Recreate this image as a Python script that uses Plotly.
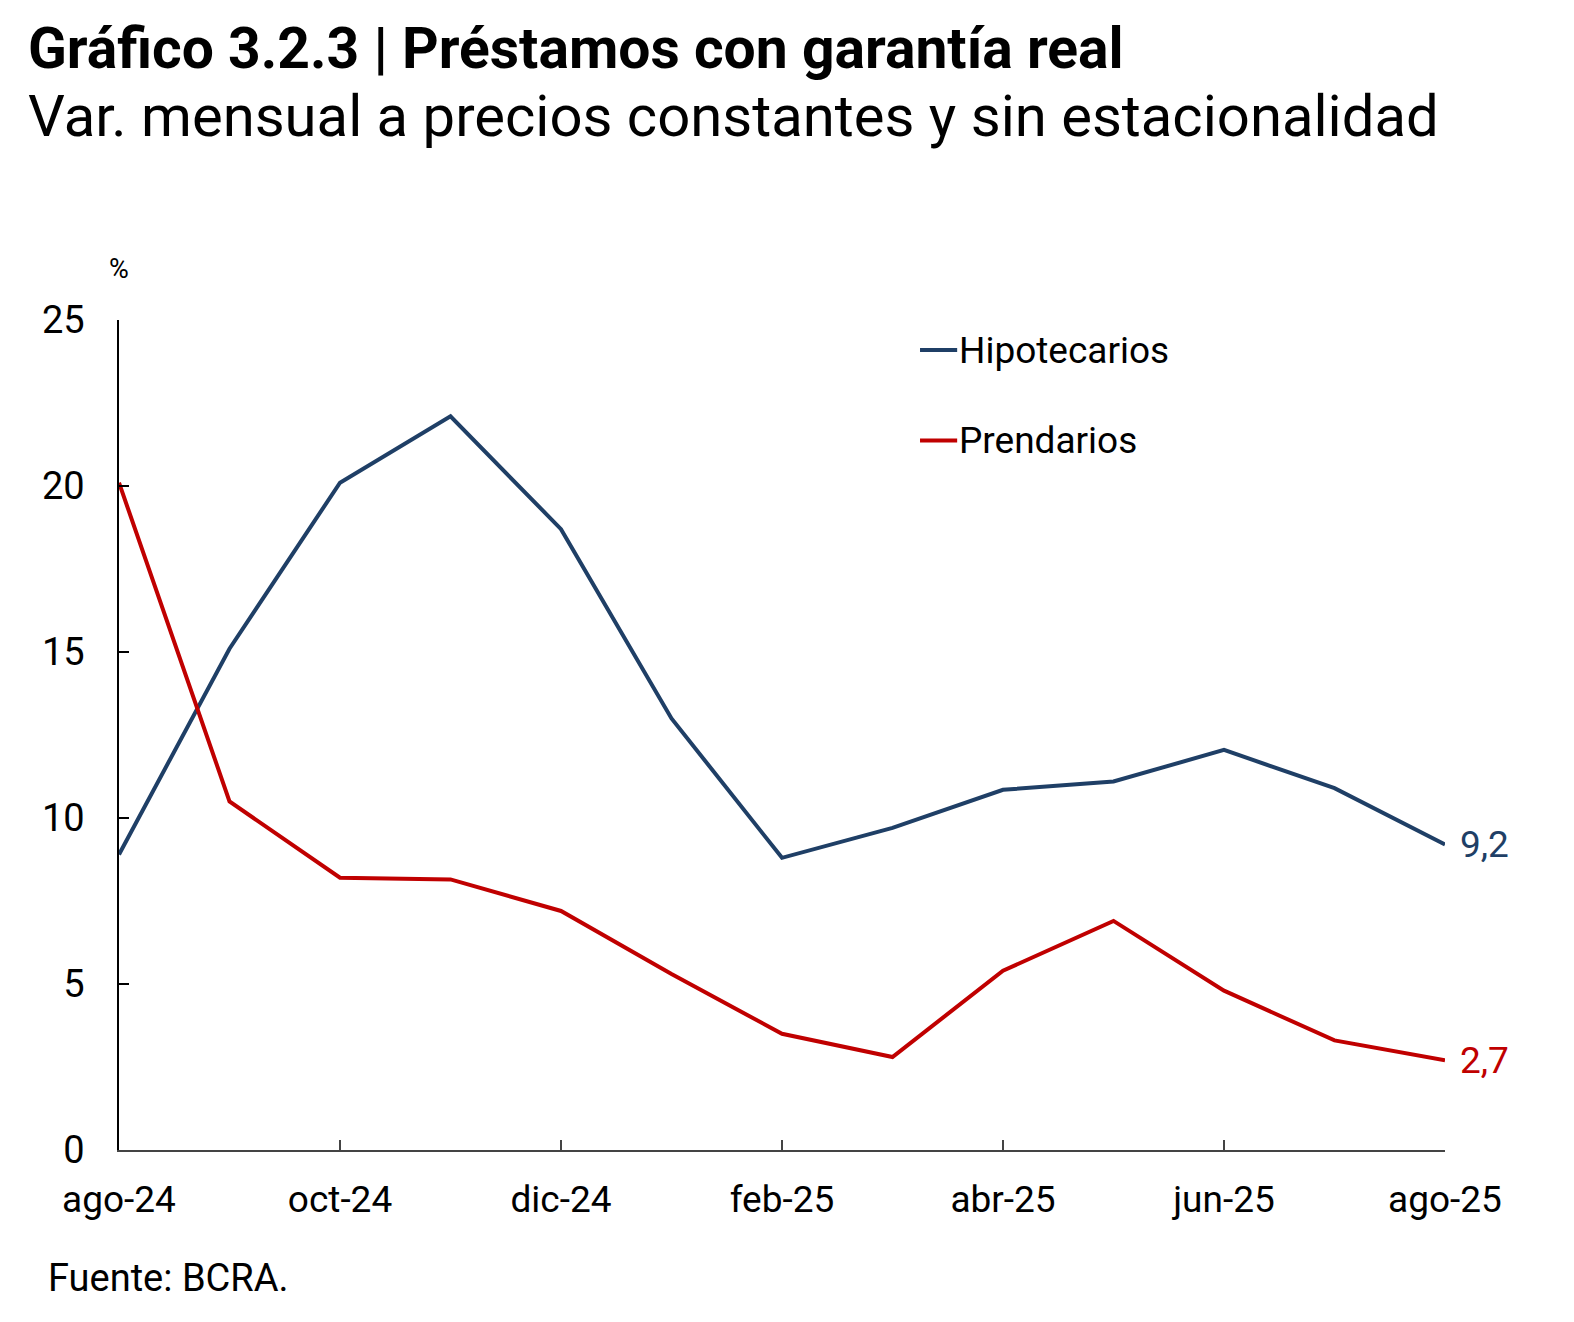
import plotly.graph_objects as go

# Data (monthly % change)
months = ["ago-24", "sep-24", "oct-24", "nov-24", "dic-24", "ene-25", "feb-25",
          "mar-25", "abr-25", "may-25", "jun-25", "jul-25", "ago-25"]
hipotecarios = [8.9, 15.1, 20.1, 22.1, 18.7, 13.0, 8.8, 9.7, 10.85, 11.1, 12.05, 10.9, 9.2]
prendarios = [20.1, 10.5, 8.2, 8.15, 7.2, 5.3, 3.5, 2.8, 5.4, 6.9, 4.8, 3.3, 2.7]
tick_months = months[::2]
y_ticks = [0, 5, 10, 15, 20, 25]

BLUE = "#1F3F66"
RED = "#C00000"
FONT = "Roboto"

# the page is shown with a small offset, so the figure is a bit smaller
W, H = 1566, 1314
L, R, T, B = 111, 129, 312, 172

# plot area in screenshot pixels (used to place the free text)
PX0, PX1, PY0, PY1 = 117, 1438, 319, 1146


def px(x):
    return (x - PX0) / (PX1 - PX0)


def py(y):
    return (PY1 - y) / (PY1 - PY0)


fig = go.Figure()

fig.add_trace(go.Scatter(
    x=months, y=hipotecarios, mode="lines", name="Hipotecarios",
    line=dict(color=BLUE, width=4), showlegend=False
))
fig.add_trace(go.Scatter(
    x=months, y=prendarios, mode="lines", name="Prendarios",
    line=dict(color=RED, width=4), showlegend=False
))

# end-of-series value labels
fig.add_annotation(x=months[-1], y=hipotecarios[-1], text=f"{hipotecarios[-1]:.1f}".replace(".", ","),
                   xanchor="left", xshift=13, showarrow=False,
                   font=dict(family=FONT, size=37, color=BLUE))
fig.add_annotation(x=months[-1], y=prendarios[-1], text=f"{prendarios[-1]:.1f}".replace(".", ","),
                   xanchor="left", xshift=13, showarrow=False,
                   font=dict(family=FONT, size=37, color=RED))

# hand-drawn legend (short line + label)
for name, color, ly in [("Hipotecarios", BLUE, 349), ("Prendarios", RED, 439)]:
    fig.add_shape(type="line", xref="paper", yref="paper",
                  x0=px(915), x1=px(952), y0=py(ly), y1=py(ly),
                  line=dict(color=color, width=4))
    fig.add_annotation(x=px(952), y=py(ly), xref="paper", yref="paper", text=name,
                       showarrow=False, xanchor="left", yanchor="middle",
                       font=dict(family=FONT, size=37, color="black"))

# title, subtitle, unit and source
fig.add_annotation(x=px(24), y=py(48), xref="paper", yref="paper",
                   text="<b>Gráfico 3.2.3 | Préstamos con garantía real</b>",
                   showarrow=False, xanchor="left", yanchor="middle",
                   font=dict(family=FONT, size=57, color="black"))
fig.add_annotation(x=px(24), y=py(116), xref="paper", yref="paper",
                   text="Var. mensual a precios constantes y sin estacionalidad",
                   showarrow=False, xanchor="left", yanchor="middle",
                   font=dict(family=FONT, size=58, color="black"))
fig.add_annotation(x=px(117), y=py(268), xref="paper", yref="paper", text="%",
                   showarrow=False, xanchor="center", yanchor="middle",
                   font=dict(family=FONT, size=27, color="black"))
fig.add_annotation(x=px(44), y=py(1274), xref="paper", yref="paper", text="Fuente: BCRA.",
                   showarrow=False, xanchor="left", yanchor="middle",
                   font=dict(family=FONT, size=38, color="black"))

fig.update_layout(
    width=W, height=H,
    margin=dict(l=L, r=R, t=T, b=B),
    plot_bgcolor="white", paper_bgcolor="white",
    font=dict(family=FONT, size=37, color="black"),
    showlegend=False,
)

fig.update_xaxes(
    type="category", range=[0, 12],
    tickvals=tick_months, ticktext=tick_months,
    showline=True, linecolor="#444444", linewidth=1.5,
    ticks="inside", ticklen=10, tickcolor="#444444", tickwidth=1.5,
    ticklabelstandoff=16, showgrid=False, zeroline=False,
    tickfont=dict(family=FONT, size=37, color="black"),
)
fig.update_yaxes(
    range=[0, 25], tickvals=y_ticks,
    showline=True, linecolor="black", linewidth=1.5,
    ticks="inside", ticklen=10, tickcolor="black", tickwidth=1.5,
    ticklabelstandoff=25, showgrid=False, zeroline=False,
    tickfont=dict(family=FONT, size=38, color="black"),
)

fig.write_html("out.html")
